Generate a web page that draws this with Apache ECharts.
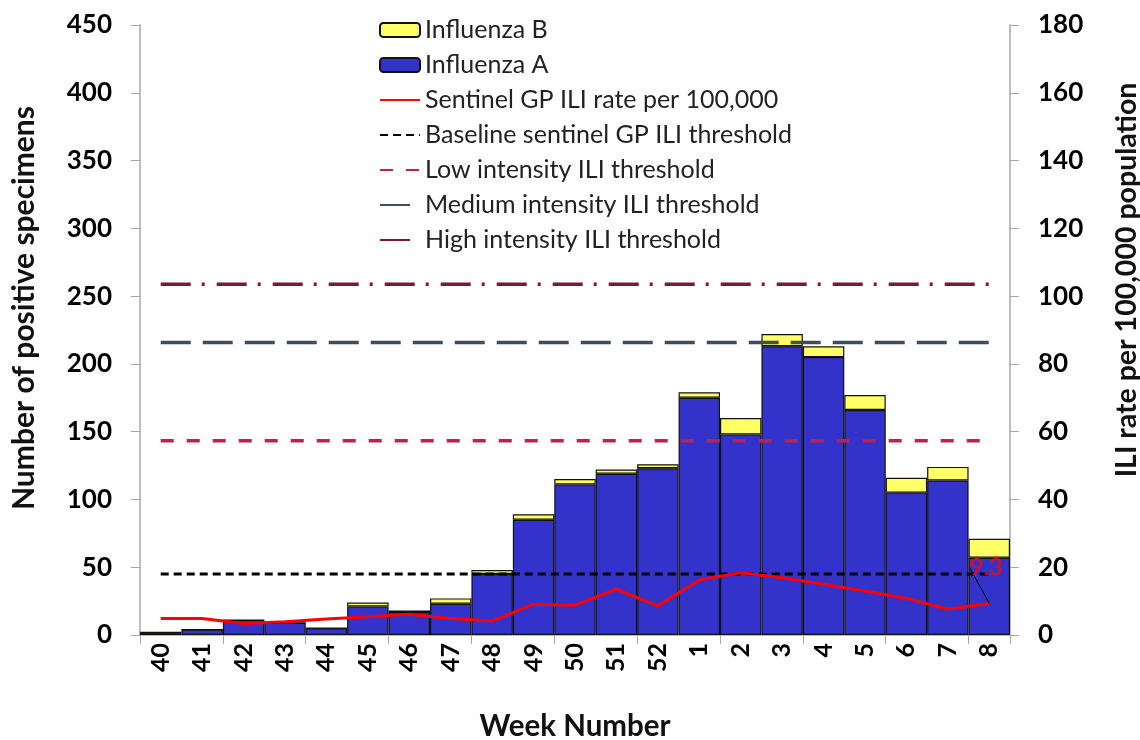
<!DOCTYPE html>
<html>
<head>
<meta charset="utf-8">
<script src="https://cdn.jsdelivr.net/npm/echarts@6/dist/echarts.min.js"></script>
<style>
html,body{margin:0;padding:0;background:#fff;}
#chart{width:1140px;height:740px;}
</style>
</head>
<body>
<div id="chart"></div>
<script>
var weeks = ['40','41','42','43','44','45','46','47','48','49','50','51','52','1','2','3','4','5','6','7','8'];
var fluA = [2,4,11,9,5,21,17,23,45,85,111,119,123,175,148,213,205,166,105,114,57];
var fluB = [0,0,0,0,0,3,1,4,3,4,4,3,3,4,12,9,8,11,11,10,14];
var iliRate = [4.9,4.9,3.4,3.9,4.7,5.4,6.1,4.9,4.1,9.1,8.8,13.5,8.6,16.2,18.4,16.9,15.0,13.0,10.8,7.6,9.3];
var baselineThreshold = 18.0;
var lowThreshold = 57.3;
var mediumThreshold = 86.3;
var highThreshold = 103.5;
var leftTicks = [0,450,50];
var rightTicks = [0,180,20];

var FONT = 'Lato';
function flat(v){ return weeks.map(function(){ return v; }); }

var chart = echarts.init(document.getElementById('chart'));
var lastIdx = iliRate.length - 1;
var iliData = iliRate.map(function(v,i){
  if(i===lastIdx){
    return {value:v, label:{show:true, position:'top', distance:4, color:'#FF0000', fontSize:24, fontFamily:FONT, formatter:'{c}'},
            labelLine:{show:true, lineStyle:{color:'#000', width:1}}};
  }
  return v;
});

var lineNames = ['Sentinel GP ILI rate per 100,000','Baseline sentinel GP ILI threshold','Low intensity ILI threshold','Medium intensity ILI threshold','High intensity ILI threshold'];
var legendData = ['Influenza B','Influenza A'].concat(lineNames.map(function(n){ return {name:n, itemStyle:{opacity:0}}; }));

var option = {
  animation:false,
  backgroundColor:'#fff',
  textStyle:{fontFamily:FONT},
  grid:{left:140, right:130, top:25, bottom:105, containLabel:false, outerBoundsMode:'none'},
  legend:{
    orient:'vertical', left:374, top:12,
    itemWidth:40, itemHeight:14, itemGap:9,
    textStyle:{fontSize:25, color:'#222', fontFamily:FONT, lineHeight:26},
    data:legendData
  },
  xAxis:{
    type:'category', data:weeks,
    name:'Week Number', nameLocation:'middle', nameGap:76,
    nameTextStyle:{fontSize:29.5, fontWeight:'bold', color:'#111', fontFamily:FONT},
    axisLine:{lineStyle:{color:'#A6A6A6', width:1.5}},
    axisTick:{show:true, interval:1, length:9, lineStyle:{color:'#A6A6A6'}},
    axisLabel:{interval:0, rotate:90, fontSize:25, fontWeight:'bold', color:'#000', margin:8, fontFamily:FONT}
  },
  yAxis:[{
    type:'value', min:leftTicks[0], max:leftTicks[1], interval:leftTicks[2],
    name:'Number of positive specimens', nameLocation:'middle', nameGap:101, nameRotate:90,
    nameTextStyle:{fontSize:30, fontWeight:'bold', color:'#111', fontFamily:FONT, padding:[0,0,0,44]},
    axisLine:{show:true, lineStyle:{color:'#A6A6A6', width:1.5}},
    axisTick:{show:true, length:9, lineStyle:{color:'#A6A6A6'}},
    axisLabel:{fontSize:26, fontWeight:'bold', color:'#000', margin:28, fontFamily:FONT},
    splitLine:{show:false}
  },{
    type:'value', min:rightTicks[0], max:rightTicks[1], interval:rightTicks[2],
    name:'ILI rate per 100,000 population', nameLocation:'middle', nameGap:102, nameRotate:90,
    nameTextStyle:{fontSize:28.5, fontWeight:'bold', color:'#111', fontFamily:FONT, padding:[0,0,0,100]},
    axisLine:{show:true, lineStyle:{color:'#A6A6A6', width:1.5}},
    axisTick:{show:true, length:9, lineStyle:{color:'#A6A6A6'}},
    axisLabel:{fontSize:26, fontWeight:'bold', color:'#000', margin:28, fontFamily:FONT},
    splitLine:{show:false}
  }],
  series:[
    {name:'Influenza A', type:'bar', stack:'flu', data:fluA, barCategoryGap:'0%',
     itemStyle:{color:'#3333CC', borderColor:'#111', borderWidth:1.2}, z:2},
    {name:'Influenza B', type:'bar', stack:'flu', data:fluB, barCategoryGap:'0%',
     itemStyle:{color:'#FFFF66', borderColor:'#111', borderWidth:1.2}, z:2},
    {name:'Sentinel GP ILI rate per 100,000', type:'line', yAxisIndex:1, data:iliData,
     symbol:'circle', symbolSize:0, showSymbol:true,
     lineStyle:{color:'#FF0000', width:3}, itemStyle:{color:'#FF0000'}, z:5,
     labelLayout:{dy:-20, dx:-3}},
    {name:'Baseline sentinel GP ILI threshold', type:'line', yAxisIndex:1, data:flat(baselineThreshold),
     symbol:'none', lineStyle:{color:'#000', width:3, type:[8,5]}, itemStyle:{color:'#000'}, z:4},
    {name:'Low intensity ILI threshold', type:'line', yAxisIndex:1, data:flat(lowThreshold),
     symbol:'none', lineStyle:{color:'#C0204A', width:3.5, type:[13,13]}, itemStyle:{color:'#C0204A'}, z:4},
    {name:'Medium intensity ILI threshold', type:'line', yAxisIndex:1, data:flat(mediumThreshold),
     symbol:'none', lineStyle:{color:'#3E4E5E', width:3.5, type:[30,12]}, itemStyle:{color:'#3E4E5E'}, z:4},
    {name:'High intensity ILI threshold', type:'line', yAxisIndex:1, data:flat(highThreshold),
     symbol:'none', lineStyle:{color:'#7A1A32', width:3.5, type:[30,11,3,12]}, itemStyle:{color:'#7A1A32'}, z:4}
  ]
};
chart.setOption(option);
</script>
</body>
</html>
